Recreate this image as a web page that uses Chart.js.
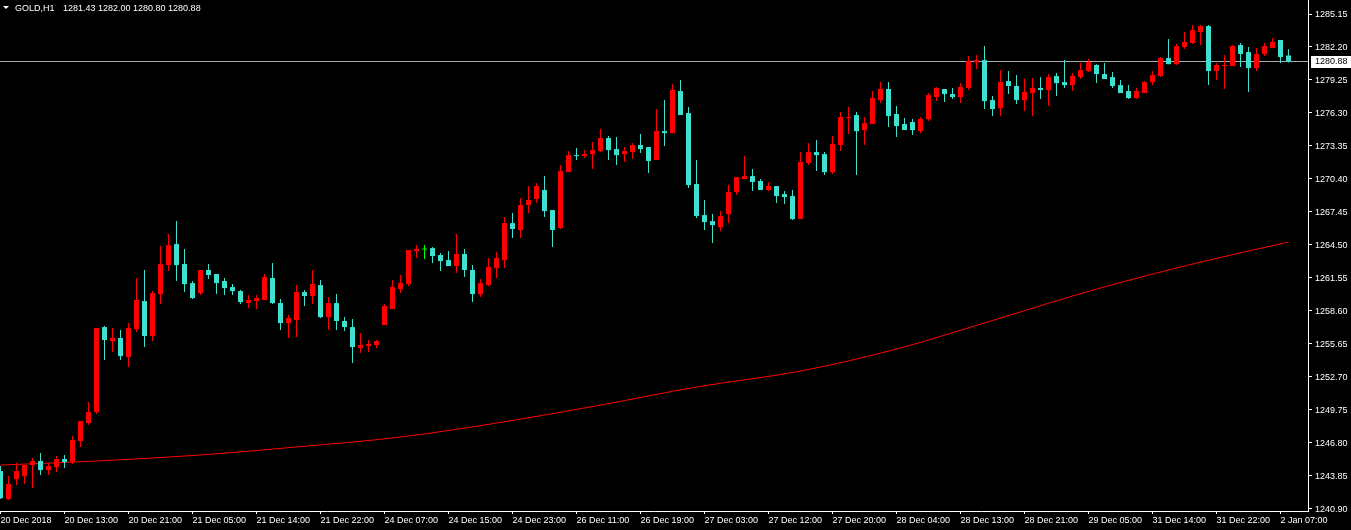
<!DOCTYPE html>
<html>
<head>
<meta charset="utf-8">
<script src="https://cdn.jsdelivr.net/npm/chart.js@4.4.0/dist/chart.umd.min.js"></script>
<style>
html, body { margin: 0; padding: 0; background: #000; overflow: hidden; }
canvas { display: block; }
</style>
</head>
<body>
<canvas id="chart" width="1351" height="530"></canvas>
<script>
const symbol = 'GOLD,H1';

// hourly candles, 20 Dec 2018 .. 2 Jan 2019
const opens = [
  1244.21, 1241.70, 1243.49, 1243.76, 1244.75, 1245.11, 1244.30, 1244.57, 1245.29, 1245.02,
  1246.90, 1248.51, 1249.50, 1257.11, 1255.86, 1256.13, 1254.42, 1256.93, 1259.44, 1256.31,
  1260.06, 1262.66, 1264.54, 1262.75, 1261.05, 1260.15, 1262.22, 1261.86, 1261.23, 1260.69,
  1260.33, 1259.26, 1259.44, 1259.53, 1261.50, 1259.26, 1257.47, 1257.74, 1260.24, 1259.89,
  1260.87, 1258.00, 1259.26, 1257.65, 1257.11, 1255.23, 1255.41, 1255.50, 1257.29, 1258.72,
  1260.51, 1260.96, 1263.92, 1264.05, 1264.18, 1263.56, 1263.11, 1262.57, 1263.65, 1262.22,
  1260.06, 1260.87, 1262.39, 1263.11, 1266.42, 1265.80, 1268.04, 1268.58, 1269.38, 1267.59,
  1265.98, 1270.99, 1272.51, 1272.42, 1272.60, 1272.87, 1274.04, 1273.05, 1272.60, 1272.78,
  1273.41, 1273.23, 1272.07, 1274.66, 1274.48, 1278.25, 1276.28, 1269.92, 1267.14, 1266.60,
  1266.06, 1267.23, 1269.20, 1270.36, 1270.63, 1270.19, 1269.38, 1269.74, 1269.02, 1268.84,
  1266.78, 1271.80, 1272.78, 1272.60, 1270.99, 1273.41, 1275.83, 1276.10, 1274.75, 1275.29,
  1277.44, 1278.43, 1276.19, 1275.29, 1275.47, 1274.66, 1275.74, 1277.71, 1278.43, 1277.98,
  1277.71, 1278.52, 1280.84, 1281.02, 1277.44, 1276.72, 1279.14, 1278.70, 1277.44, 1278.07,
  1278.52, 1278.34, 1279.59, 1279.05, 1278.78, 1279.50, 1280.04, 1280.58, 1279.77, 1279.50,
  1278.78, 1278.25, 1277.62, 1278.07, 1279.05, 1279.59, 1281.20, 1280.66, 1282.19, 1282.55,
  1283.53, 1284.07, 1280.04, 1280.49, 1280.49, 1282.37, 1281.74, 1280.31, 1281.56, 1282.10,
  1282.82, 1281.43
];
const highs = [
  1244.66, 1243.76, 1244.93, 1244.75, 1245.38, 1245.83, 1244.93, 1245.56, 1245.65, 1247.35,
  1248.69, 1250.39, 1257.02, 1257.20, 1257.02, 1256.84, 1257.47, 1261.50, 1262.22, 1260.33,
  1264.36, 1265.44, 1266.60, 1264.10, 1261.23, 1262.22, 1262.75, 1261.86, 1261.50, 1260.96,
  1260.42, 1259.97, 1259.97, 1261.86, 1262.84, 1259.62, 1258.18, 1260.87, 1260.42, 1262.22,
  1261.32, 1259.80, 1260.06, 1258.00, 1257.83, 1256.57, 1255.95, 1255.95, 1259.17, 1261.32,
  1261.77, 1264.01, 1264.45, 1264.45, 1264.27, 1263.74, 1263.92, 1265.44, 1264.10, 1262.66,
  1261.41, 1263.29, 1263.83, 1266.96, 1267.32, 1268.67, 1269.74, 1270.01, 1270.63, 1267.59,
  1271.62, 1272.87, 1273.14, 1272.96, 1273.68, 1274.84, 1274.22, 1274.13, 1273.23, 1273.59,
  1274.40, 1273.23, 1276.64, 1277.44, 1278.87, 1279.23, 1276.81, 1272.07, 1268.49, 1267.23,
  1267.50, 1269.83, 1270.54, 1272.42, 1271.26, 1270.36, 1270.10, 1269.74, 1269.29, 1269.38,
  1272.78, 1273.59, 1273.86, 1272.78, 1274.22, 1276.37, 1276.81, 1276.37, 1275.92, 1278.25,
  1279.05, 1279.05, 1276.90, 1275.83, 1275.74, 1275.92, 1278.07, 1278.61, 1278.43, 1278.52,
  1278.96, 1281.38, 1281.47, 1282.28, 1277.80, 1280.13, 1280.04, 1279.68, 1279.32, 1279.41,
  1279.50, 1279.77, 1279.86, 1281.02, 1279.86, 1280.75, 1281.11, 1280.66, 1280.75, 1279.95,
  1279.23, 1278.78, 1278.52, 1279.14, 1280.04, 1281.29, 1282.91, 1282.46, 1283.53, 1284.16,
  1284.16, 1284.16, 1280.75, 1281.47, 1282.37, 1282.55, 1282.19, 1282.10, 1282.55, 1283.00,
  1282.82, 1282.00
];
const lows = [
  1241.70, 1241.62, 1242.96, 1243.05, 1242.69, 1243.85, 1243.85, 1244.12, 1244.48, 1244.84,
  1246.37, 1248.33, 1249.32, 1254.16, 1254.87, 1254.16, 1253.53, 1256.66, 1255.32, 1255.86,
  1259.17, 1262.13, 1261.23, 1260.24, 1259.62, 1259.97, 1261.41, 1260.06, 1259.97, 1259.97,
  1259.17, 1258.81, 1258.72, 1259.53, 1259.17, 1256.84, 1256.13, 1256.22, 1258.99, 1259.17,
  1257.92, 1256.84, 1256.84, 1256.75, 1253.89, 1254.78, 1254.87, 1255.23, 1257.29, 1258.72,
  1260.15, 1260.78, 1263.29, 1263.20, 1262.84, 1262.13, 1262.57, 1261.95, 1261.59, 1259.35,
  1259.80, 1260.78, 1261.50, 1262.39, 1265.08, 1265.08, 1267.32, 1268.22, 1266.96, 1264.27,
  1265.89, 1270.99, 1272.07, 1272.25, 1271.26, 1272.78, 1272.07, 1271.62, 1271.89, 1272.16,
  1272.69, 1270.90, 1272.07, 1273.32, 1274.48, 1276.10, 1269.56, 1266.87, 1265.80, 1264.63,
  1265.71, 1266.42, 1268.93, 1270.36, 1269.29, 1269.38, 1269.29, 1268.22, 1268.13, 1266.69,
  1266.78, 1271.62, 1271.08, 1270.72, 1270.81, 1272.87, 1274.40, 1270.72, 1273.41, 1275.29,
  1277.17, 1275.02, 1274.13, 1274.75, 1274.31, 1274.48, 1275.56, 1277.35, 1277.26, 1277.53,
  1277.17, 1278.34, 1280.22, 1276.64, 1276.01, 1276.01, 1277.98, 1277.08, 1276.46, 1276.01,
  1277.53, 1276.90, 1277.80, 1278.52, 1278.25, 1279.32, 1279.95, 1278.96, 1279.32, 1278.52,
  1278.07, 1277.53, 1277.53, 1278.07, 1278.78, 1279.50, 1280.66, 1280.58, 1282.01, 1282.46,
  1282.37, 1278.78, 1279.23, 1278.43, 1280.49, 1280.40, 1278.16, 1280.04, 1281.38, 1282.10,
  1280.75, 1280.80
];
const closes = [
  1241.79, 1243.05, 1244.21, 1244.75, 1245.11, 1244.30, 1244.66, 1245.29, 1245.02, 1246.99,
  1248.69, 1249.50, 1257.02, 1255.95, 1256.13, 1254.51, 1257.02, 1259.53, 1256.31, 1260.15,
  1262.75, 1264.45, 1262.66, 1260.96, 1259.71, 1262.22, 1261.77, 1261.05, 1260.60, 1260.33,
  1259.35, 1259.53, 1259.71, 1261.59, 1259.26, 1257.47, 1257.92, 1260.24, 1259.89, 1260.96,
  1258.00, 1259.26, 1257.65, 1257.11, 1255.32, 1255.50, 1255.59, 1255.86, 1258.99, 1260.69,
  1261.05, 1264.01, 1264.10, 1264.05, 1263.47, 1263.02, 1262.57, 1263.65, 1262.22, 1260.06,
  1261.05, 1262.48, 1263.29, 1266.42, 1265.89, 1268.04, 1268.49, 1269.74, 1267.50, 1265.80,
  1271.08, 1272.51, 1272.42, 1272.60, 1272.96, 1274.04, 1272.96, 1272.51, 1272.87, 1273.41,
  1273.05, 1271.98, 1274.66, 1274.48, 1278.34, 1276.10, 1269.83, 1267.05, 1266.51, 1266.24,
  1267.05, 1269.20, 1270.54, 1270.63, 1270.10, 1269.38, 1269.74, 1268.84, 1268.75, 1266.78,
  1271.89, 1272.78, 1272.51, 1270.99, 1273.50, 1275.92, 1275.92, 1274.66, 1275.38, 1277.62,
  1278.43, 1276.01, 1275.11, 1274.75, 1274.75, 1275.74, 1277.89, 1278.52, 1277.98, 1277.71,
  1278.61, 1280.93, 1281.02, 1277.35, 1276.64, 1279.05, 1278.70, 1277.44, 1278.16, 1278.52,
  1278.34, 1279.50, 1278.96, 1278.78, 1279.59, 1280.13, 1280.84, 1279.77, 1279.32, 1278.70,
  1278.07, 1277.62, 1278.25, 1279.05, 1279.68, 1281.20, 1280.66, 1282.28, 1282.64, 1283.71,
  1284.07, 1280.04, 1280.58, 1280.58, 1282.28, 1281.56, 1280.31, 1281.56, 1282.28, 1282.64,
  1281.29, 1280.88
];

// moving average read at a few bars
const maBars = [0, 12, 25, 37, 50, 62, 75, 87, 100, 112, 125, 137, 150, 161];
const maValues = [
  1244.75, 1245.11, 1245.65, 1246.37, 1247.26, 1248.51, 1250.12, 1251.74,
  1253.17, 1255.14, 1257.92, 1260.51, 1262.93, 1264.72
];

// time labels, one every 8 bars
const timeLabels = [
  '20 Dec 2018', '20 Dec 13:00', '20 Dec 21:00', '21 Dec 05:00', '21 Dec 14:00', '21 Dec 22:00',
  '24 Dec 07:00', '24 Dec 15:00', '24 Dec 23:00', '26 Dec 11:00', '26 Dec 19:00', '27 Dec 03:00',
  '27 Dec 12:00', '27 Dec 20:00', '28 Dec 04:00', '28 Dec 13:00', '28 Dec 21:00', '29 Dec 05:00',
  '31 Dec 14:00', '31 Dec 22:00', '2 Jan 07:00'
];
const priceTicks = [
  1240.90, 1243.85, 1246.80, 1249.75, 1252.70, 1255.65, 1258.60, 1261.55,
  1264.50, 1267.45, 1270.40, 1273.35, 1276.30, 1279.25, 1282.20, 1285.15
];

const bullColor = '#ff0000';
const bearColor = '#40e0d0';
const dojiColor = '#00ff00';
const fontFamily = '"Liberation Sans", Arial, sans-serif';

const candleColors = opens.map((o, i) => closes[i] > o ? bullColor : (closes[i] < o ? bearColor : dojiColor));
const bodies = opens.map((o, i) => ({ x: i, y: [o, closes[i]] }));
const wicks = lows.map((l, i) => ({ x: i, y: [l, highs[i]] }));
const maLine = maBars.map((b, i) => ({ x: b, y: maValues[i] }));
const last = closes.length - 1;

const mtOverlay = {
  id: 'mtOverlay',
  beforeDraw(chart) {
    const c = chart.ctx;
    c.save();
    c.fillStyle = '#000';
    c.fillRect(0, 0, chart.width, chart.height);
    c.restore();
  },
  beforeDatasetsDraw(chart) {
    const c = chart.ctx, a = chart.chartArea;
    const y = Math.floor(chart.scales.y.getPixelForValue(closes[last])) + 0.5;
    c.save();
    c.strokeStyle = '#a4acb4';
    c.lineWidth = 1;
    c.beginPath();
    c.moveTo(a.left, y);
    c.lineTo(a.right, y);
    c.stroke();
    c.restore();
  },
  afterDraw(chart) {
    const c = chart.ctx, a = chart.chartArea;
    const y = Math.floor(chart.scales.y.getPixelForValue(closes[last]));
    c.save();
    // price label on the axis
    c.fillStyle = '#ffffff';
    c.fillRect(a.right + 3, y - 5, chart.width - a.right - 3, 12);
    c.fillStyle = '#000000';
    c.font = '9px ' + fontFamily;
    c.textBaseline = 'middle';
    c.textAlign = 'left';
    c.fillText(closes[last].toFixed(2), a.right + 7, y + 1);
    // title
    c.fillStyle = '#ffffff';
    c.beginPath();
    c.moveTo(3, 6); c.lineTo(9, 6); c.lineTo(6, 9); c.closePath();
    c.fill();
    c.textBaseline = 'alphabetic';
    c.fillText(symbol, 15, 11);
    c.fillText([opens[last], highs[last], lows[last], closes[last]].map(v => v.toFixed(2)).join(' '), 63, 11);
    c.restore();
  }
};

new Chart(document.getElementById('chart'), {
  type: 'bar',
  data: {
    datasets: [
      {
        label: 'body',
        data: bodies,
        backgroundColor: candleColors,
        barThickness: 5,
        minBarLength: 1,
        grouped: false,
        borderWidth: 0,
        inflateAmount: 0
      },
      {
        label: 'wick',
        data: wicks,
        backgroundColor: candleColors,
        barThickness: 1,
        minBarLength: 1,
        grouped: false,
        borderWidth: 0,
        inflateAmount: 0
      },
      {
        type: 'line',
        label: 'MA',
        data: maLine,
        borderColor: '#ff0000',
        borderWidth: 1,
        pointRadius: 0,
        cubicInterpolationMode: 'monotone'
      }
    ]
  },
  options: {
    responsive: false,
    animation: false,
    events: [],
    layout: { padding: 0 },
    plugins: { legend: { display: false }, tooltip: { enabled: false } },
    scales: {
      x: {
        type: 'linear',
        position: 'bottom',
        offset: false,
        min: -0.0625,
        max: 163.4375,
        afterBuildTicks(scale) {
          scale.ticks = timeLabels.map((_, i) => ({ value: i * 8 }));
        },
        afterFit(scale) {
          scale.height = 19;
          scale.paddingLeft = 0;
          scale.paddingRight = 0;
        },
        grid: { offset: false, drawOnChartArea: false, drawTicks: true, tickLength: 3, color: '#ffffff' },
        border: { color: '#ffffff', width: 1 },
        ticks: {
          autoSkip: false,
          maxRotation: 0,
          minRotation: 0,
          align: 'start',
          padding: 1,
          color: '#ffffff',
          font: { family: fontFamily, size: 9 },
          callback: (v, i) => timeLabels[i]
        }
      },
      y: {
        type: 'linear',
        position: 'right',
        min: 1240.634,
        max: 1286.404,
        afterBuildTicks(scale) {
          scale.ticks = priceTicks.map(v => ({ value: v }));
        },
        afterFit(scale) {
          scale.width = 43;
          scale.paddingTop = 0;
          scale.paddingBottom = 0;
        },
        grid: { drawOnChartArea: false, drawTicks: true, tickLength: 4, color: '#ffffff' },
        border: { color: '#ffffff', width: 1 },
        ticks: {
          crossAlign: 'near',
          padding: 3,
          labelOffset: 1,
          color: '#ffffff',
          font: { family: fontFamily, size: 9 },
          callback: v => v.toFixed(2)
        }
      }
    }
  },
  plugins: [mtOverlay]
});
</script>
</body>
</html>
